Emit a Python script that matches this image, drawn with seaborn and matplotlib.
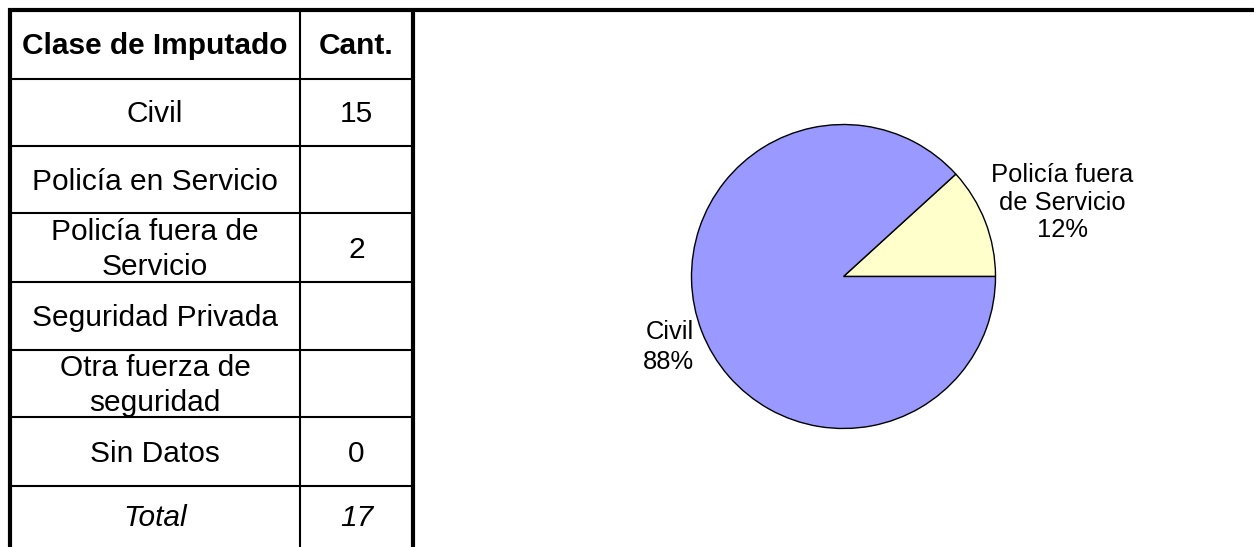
import matplotlib
matplotlib.use("Agg")
import matplotlib.pyplot as plt
import seaborn as sns

# data
categories = ["Civil", "Policía en Servicio", "Policía fuera de\nServicio",
              "Seguridad Privada", "Otra fuerza de\nseguridad", "Sin Datos"]
counts = [15, None, 2, None, None, 0]
total = 17

pie_labels = ["Policía fuera\nde Servicio", "Civil"]
pie_values = [2, 15]
pie_colors = ["#FFFFCC", "#9999FF"]

sns.set_style("white")
plt.rcParams["font.family"] = ["Liberation Sans", "DejaVu Sans"]
plt.rcParams["text.color"] = "black"

fig = plt.figure(figsize=(12.54, 5.47), dpi=100)

# full-figure axes in pixel coordinates for the table
tab = fig.add_axes([0, 0, 1, 1])
tab.set_xlim(0, 1254)
tab.set_ylim(547, 0)
tab.axis("off")

row_edges = [10, 79, 146, 213, 282, 350, 417, 486, 547]
x_left, x_mid, x_right = 10, 300, 413
fs = 21.5

# thin inner grid
for y in row_edges[1:-1]:
    tab.plot([x_left, x_right], [y, y], color="black", lw=1.5, solid_capstyle="butt")
tab.plot([x_mid, x_mid], [10, 547], color="black", lw=1.5)
# thick borders
tab.plot([8, 1254], [10, 10], color="black", lw=3, solid_capstyle="butt")
tab.plot([x_left, x_left], [8, 547], color="black", lw=3, solid_capstyle="butt")
tab.plot([x_right, x_right], [8, 547], color="black", lw=3, solid_capstyle="butt")

c1 = (x_left + x_mid) / 2
c2 = (x_mid + x_right) / 2

def row_y(i):
    return (row_edges[i] + row_edges[i + 1]) / 2 + 2

tab.text(c1, row_y(0), "Clase de Imputado", ha="center", va="center",
         fontsize=fs, fontweight="bold")
tab.text(c2, row_y(0), "Cant.", ha="center", va="center",
         fontsize=fs, fontweight="bold")
for i, (cat, n) in enumerate(zip(categories, counts), start=1):
    tab.text(c1, row_y(i), cat, ha="center", va="center", fontsize=fs,
             linespacing=1.3)
    if n is not None:
        tab.text(c2, row_y(i), str(n), ha="center", va="center", fontsize=fs)
tab.text(c1, row_y(7), "Total", ha="center", va="center", fontsize=fs, style="italic")
tab.text(c2, row_y(7), str(total), ha="center", va="center", fontsize=fs, style="italic")

# pie
cx, cy, r = 843.5, 276.5, 152
pie_ax = fig.add_axes([(cx - r) / 1254, 1 - (cy + r) / 547, 2 * r / 1254, 2 * r / 547])
pie_ax.pie(pie_values, colors=pie_colors, startangle=0, counterclock=True,
           wedgeprops=dict(edgecolor="black", linewidth=1))
pie_ax.set_xlim(-1, 1)
pie_ax.set_ylim(-1, 1)
pie_ax.axis("off")

tot = sum(pie_values)
pct = [v / tot * 100 for v in pie_values]
pie_ax.text(1.44, 0.485, f"{pie_labels[0]}\n{pct[0]:.0f}%", ha="center", va="center",
            fontsize=18.4, linespacing=1.18, clip_on=False)
pie_ax.text(-0.985, -0.465, f"{pie_labels[1]}\n{pct[1]:.0f}%", ha="right", va="center",
            fontsize=18.4, linespacing=1.3, clip_on=False)

fig.savefig("out.png", dpi=100)
